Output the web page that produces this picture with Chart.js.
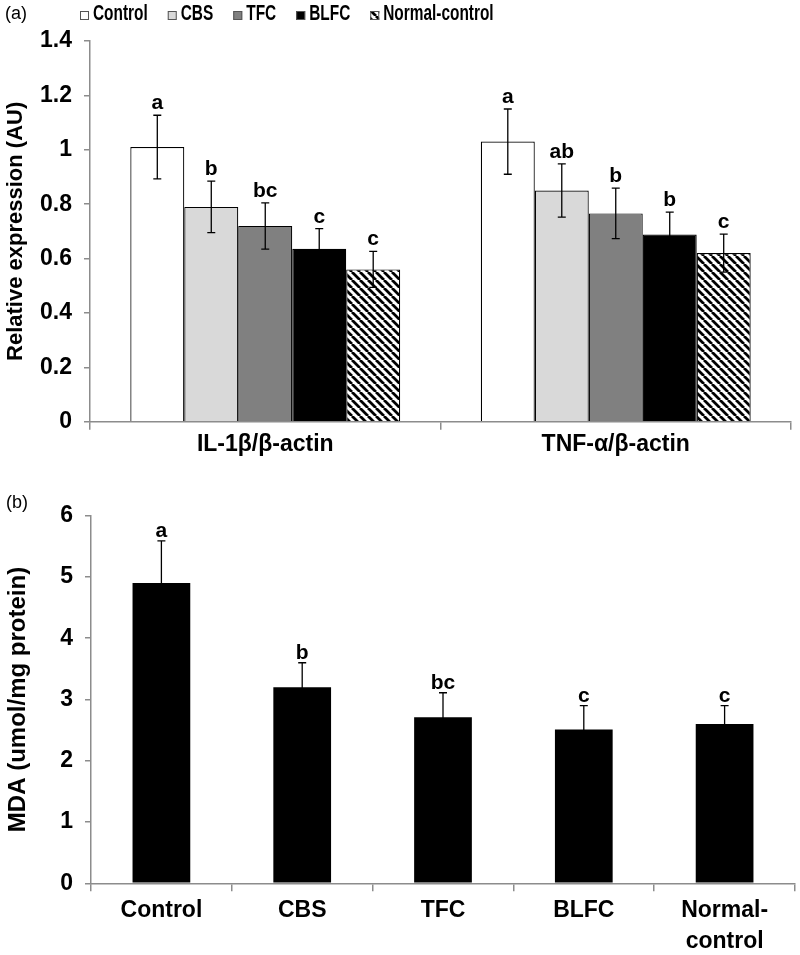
<!DOCTYPE html>
<html>
<head>
<meta charset="utf-8">
<script src="https://cdn.jsdelivr.net/npm/chart.js@4.4.1/dist/chart.umd.min.js"></script>
<style>
  html, body { margin: 0; padding: 0; background: #fff; }
  #wrap { position: relative; width: 800px; height: 955px; }
  .panel { position: absolute; left: 0; width: 800px; }
</style>
</head>
<body>
<div id="wrap">
  <div class="panel" style="top:0;height:470px"><canvas id="chartA"></canvas></div>
  <div class="panel" style="top:470px;height:485px"><canvas id="chartB"></canvas></div>
</div>
<script>
// ---------- panel (a) data ----------
const markers = ['IL-1β/β-actin', 'TNF-α/β-actin'];
const groups  = ['Control', 'CBS', 'TFC', 'BLFC', 'Normal-control'];

const controlVals = [1.01, 1.03];
const cbsVals     = [0.79, 0.85];
const tfcVals     = [0.72, 0.766];
const blfcVals    = [0.636, 0.688];
const normalVals  = [0.56, 0.62];

const controlErr = [0.117, 0.12];
const cbsErr     = [0.095, 0.098];
const tfcErr     = [0.085, 0.093];
const blfcErr    = [0.074, 0.083];
const normalErr  = [0.066, 0.07];

const controlSig = ['a', 'a'];
const cbsSig     = ['b', 'ab'];
const tfcSig     = ['bc', 'b'];
const blfcSig    = ['c', 'b'];
const normalSig  = ['c', 'c'];

const yTicksA = [0, 0.2, 0.4, 0.6, 0.8, 1, 1.2, 1.4];

// ---------- panel (b) data ----------
const mdaLabels  = ['Control', 'CBS', 'TFC', 'BLFC', ['Normal-', 'control']];
const mdaVals    = [4.9, 3.2, 2.71, 2.51, 2.6];
const mdaErr     = [0.69, 0.40, 0.40, 0.39, 0.30];
const mdaSig     = ['a', 'b', 'bc', 'c', 'c'];
const yTicksB    = [0, 1, 2, 3, 4, 5, 6];

// ---------- styling ----------
const FONT = 'Arial, "Liberation Sans", sans-serif';
const AXIS = '#8c8c8c';

// diagonal hatch for normal-control
function makeHatch() {
  const s = 8;
  const c = document.createElement('canvas');
  c.width = s; c.height = s;
  const g = c.getContext('2d');
  g.fillStyle = '#fff';
  g.fillRect(0, 0, s, s);
  g.strokeStyle = '#000';
  g.lineWidth = 2.8;
  g.beginPath();
  for (let k = -s; k <= s; k += s) {
    g.moveTo(k, 0);
    g.lineTo(k + s, s);
  }
  g.stroke();
  return g.createPattern(c, 'repeat');
}
const hatch = makeHatch();

const fills = ['#ffffff', '#d9d9d9', '#808080', '#000000', hatch];

// error bars + significance letters, drawn from the data through the scales
const errorBars = {
  id: 'errorBars',
  afterDatasetsDraw(chart, args, opts) {
    const ctx = chart.ctx;
    const y = chart.scales.y;
    ctx.save();
    ctx.strokeStyle = '#000';
    ctx.lineWidth = 1.3;
    ctx.fillStyle = '#000';
    ctx.font = 'bold 21px ' + FONT;
    ctx.textAlign = 'center';
    ctx.textBaseline = 'alphabetic';
    chart.data.datasets.forEach((ds, i) => {
      const meta = chart.getDatasetMeta(i);
      meta.data.forEach((bar, j) => {
        const v = ds.data[j], e = ds.err[j];
        const top = y.getPixelForValue(v + e);
        const bot = y.getPixelForValue(v - e);
        ctx.beginPath();
        ctx.moveTo(bar.x, top); ctx.lineTo(bar.x, bot);
        ctx.moveTo(bar.x - 4, top); ctx.lineTo(bar.x + 4, top);
        ctx.moveTo(bar.x - 4, bot); ctx.lineTo(bar.x + 4, bot);
        ctx.stroke();
        ctx.fillText(ds.sig[j], bar.x, top - opts.gap);
      });
    });
    ctx.restore();
  }
};

// panel letter and (for panel a) the legend row
const decor = {
  id: 'decor',
  afterDraw(chart, args, opts) {
    const ctx = chart.ctx;
    ctx.save();
    ctx.fillStyle = '#000';
    ctx.font = '18px ' + FONT;
    ctx.textBaseline = 'middle';
    ctx.textAlign = 'left';
    ctx.fillText(opts.panel, opts.panelX, opts.panelY);

    if (opts.legend) {
      let x = 80;
      const yb = 20;
      ctx.font = 'bold 22px ' + FONT;
      ctx.textBaseline = 'alphabetic';
      chart.data.datasets.forEach(ds => {
        ctx.fillStyle = ds.backgroundColor;
        ctx.fillRect(x, 11, 9, 9);
        ctx.strokeStyle = '#555';
        ctx.lineWidth = 1;
        ctx.strokeRect(x + 0.5, 11.5, 8, 8);
        const tx = x + 13;
        const w = ctx.measureText(ds.label).width * 0.7;
        ctx.save();
        ctx.translate(tx, yb);
        ctx.scale(0.7, 1);
        ctx.fillStyle = '#000';
        ctx.fillText(ds.label, 0, 0);
        ctx.restore();
        x = tx + w + 20;
      });
    }
    ctx.restore();
  }
};

function axisOpts(tickLen) {
  return {
    grid: { display: true, drawOnChartArea: false, tickLength: tickLen, color: AXIS, lineWidth: 1.5 },
    border: { color: AXIS, width: 1.5 },
    ticks: { color: '#000', font: { family: FONT, size: 23, weight: 'bold' } }
  };
}

// ---------- chart (a) ----------
const seriesA = [controlVals, cbsVals, tfcVals, blfcVals, normalVals];
const errA    = [controlErr, cbsErr, tfcErr, blfcErr, normalErr];
const sigA    = [controlSig, cbsSig, tfcSig, blfcSig, normalSig];

const xA = axisOpts(8);
xA.ticks.padding = 1;
xA.afterFit = s => { s.height = 48.3; };
const yA = axisOpts(6);
yA.min = 0; yA.max = 1.4;
yA.ticks.stepSize = 0.2;
yA.ticks.padding = 12;
yA.ticks.callback = v => String(v);
yA.afterBuildTicks = s => { s.ticks = yTicksA.map(v => ({ value: v })); };
yA.title = { display: true, text: 'Relative expression (AU)', color: '#000',
             font: { family: FONT, size: 22, weight: 'bold' }, padding: { top: 3, bottom: 0 } };
yA.afterFit = s => { s.width = 90; };

new Chart(document.getElementById('chartA'), {
  type: 'bar',
  data: {
    labels: markers,
    datasets: groups.map((g, i) => ({
      label: g,
      data: seriesA[i],
      err: errA[i],
      sig: sigA[i],
      backgroundColor: fills[i],
      borderColor: '#000',
      borderWidth: 1.2,
      barPercentage: 1,
      categoryPercentage: 0.77
    }))
  },
  options: {
    responsive: true,
    maintainAspectRatio: false,
    animation: false,
    layout: { padding: { top: 41, right: 9, left: 0, bottom: 0 } },
    plugins: {
      legend: { display: false },
      tooltip: { enabled: false },
      errorBars: { gap: 6 },
      decor: { panel: '(a)', panelX: 5, panelY: 14, legend: true }
    },
    scales: { x: xA, y: yA }
  },
  plugins: [errorBars, decor]
});

// ---------- chart (b) ----------
const xB = axisOpts(8);
xB.ticks.padding = 4;
xB.ticks.font.lineHeight = 1.35;
xB.afterFit = s => { s.height = 71.7; };
const yB = axisOpts(6);
yB.min = 0; yB.max = 6;
yB.ticks.stepSize = 1;
yB.ticks.padding = 12;
yB.ticks.callback = v => String(v);
yB.afterBuildTicks = s => { s.ticks = yTicksB.map(v => ({ value: v })); };
yB.title = { display: true, text: 'MDA (umol/mg protein)', color: '#000',
             font: { family: FONT, size: 24, weight: 'bold' }, padding: { top: 4, bottom: 0 } };
yB.afterFit = s => { s.width = 91; };

new Chart(document.getElementById('chartB'), {
  type: 'bar',
  data: {
    labels: mdaLabels,
    datasets: [{
      label: 'MDA',
      data: mdaVals,
      err: mdaErr,
      sig: mdaSig,
      backgroundColor: '#000',
      borderColor: '#000',
      borderWidth: 0,
      barPercentage: 0.41,
      categoryPercentage: 1
    }]
  },
  options: {
    responsive: true,
    maintainAspectRatio: false,
    animation: false,
    layout: { padding: { top: 45.7, right: 5, left: 0, bottom: 0 } },
    plugins: {
      legend: { display: false },
      tooltip: { enabled: false },
      errorBars: { gap: 4 },
      decor: { panel: '(b)', panelX: 6, panelY: 33, legend: false }
    },
    scales: { x: xB, y: yB }
  },
  plugins: [errorBars, decor]
});
</script>
</body>
</html>
